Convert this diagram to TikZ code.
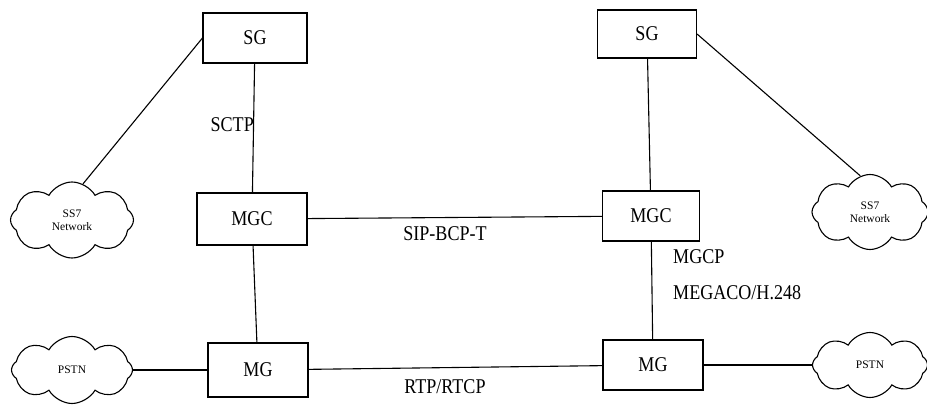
\documentclass[tikz,border=0pt]{standalone}
\usepackage{fontspec}
\setmainfont{Liberation Serif}
\newfontfamily\condserif{Liberation Serif}[FakeStretch=0.86]
\usetikzlibrary{shapes.symbols}
\begin{document}
\begin{tikzpicture}[x=1pt,y=-1pt,
  conn/.style={line width=1.1pt},
  boxnode/.style={draw,line width=1.1pt,inner sep=0pt,font=\condserif\fontsize{21}{24}\selectfont},
  cloudnode/.style={draw,cloud,cloud puffs=8,cloud puff arc=120,line width=1.1pt,inner sep=0pt,
     align=center,font=\rmfamily\fontsize{11.5}{13}\selectfont},
  lbl/.style={inner sep=0pt,font=\condserif\fontsize{21}{24}\selectfont}]
\useasboundingbox (0,0) rectangle (927,409);
% boxes
\node[boxnode,minimum width=104pt,minimum height=50pt] (SG1) at (255,38) {SG};
\node[boxnode,minimum width=99pt,minimum height=48pt] (SG2) at (647,34) {SG};
\node[boxnode,minimum width=110pt,minimum height=52pt] (MGC1) at (252,219) {MGC};
\node[boxnode,minimum width=97pt,minimum height=50pt] (MGC2) at (651,216) {MGC};
\node[boxnode,minimum width=100pt,minimum height=54pt] (MG1) at (258,370) {MG};
\node[boxnode,minimum width=100pt,minimum height=50pt] (MG2) at (653,365) {MG};
% clouds
\node[cloudnode,minimum width=123pt,minimum height=76pt] (SS7L) at (72,220) {SS7\\Network};
\node[cloudnode,minimum width=121pt,minimum height=67pt] (PSTNL) at (72,370) {PSTN};
\node[cloudnode,minimum width=116pt,minimum height=75pt] (SS7R) at (870,212) {SS7\\Network};
\node[cloudnode,minimum width=115pt,minimum height=65pt] (PSTNR) at (870,365) {PSTN};
% connectors
\draw[conn] (SG1.west) -- (SS7L.73);
\draw[conn] (SG2.east) -- (SS7R.105);
\draw[conn] (SG1) -- (MGC1);
\draw[conn] (MGC1) -- (MG1);
\draw[conn] (SG2) -- (MGC2);
\draw[conn] (MGC2) -- (MG2);
\draw[conn] (MGC1) -- (MGC2);
\draw[conn] (MG1) -- (MG2);
\draw[conn] (PSTNL.east) -- (MG1.west);
\draw[conn] (MG2.east) -- (PSTNR.west);
% labels
\node[lbl,anchor=east] (sctp) at (254,125) {SCTP};
\node[lbl] (sip) at (445,234) {SIP-BCP-T};
\node[lbl] (rtp) at (445,387) {RTP/RTCP};
\node[lbl,anchor=west] (mgcp) at (673,257) {MGCP};
\node[lbl,anchor=west] (megaco) at (673,293) {MEGACO/H.248};
\end{tikzpicture}
\end{document}
